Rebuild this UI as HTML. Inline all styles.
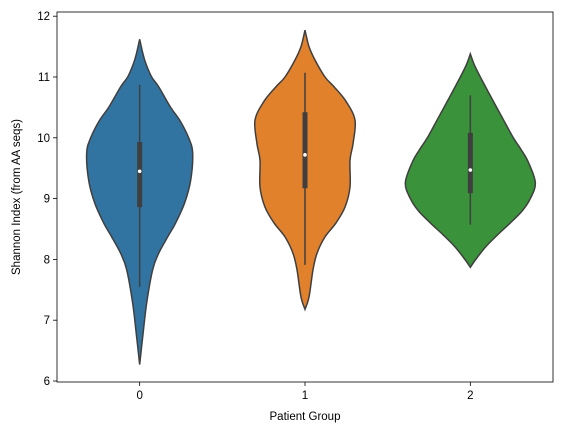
<!DOCTYPE html>
<html><head><meta charset="utf-8"><style>
body{margin:0;background:#fff}
svg text{font-family:"Liberation Sans",sans-serif;font-size:11.5px;fill:#000}
</style></head><body>
<svg width="563" height="435" id="c"></svg>
<script>
const categories=["0","1","2"];
const colors=["#3274a1","#e1812c","#3a923a"];
const yTicks=[6,7,8,9,10,11,12];
// density profiles: [value, half-width in px of kde]
const prof0=[[11.62,0],[11.4,3],[11.23,6],[11.0,12],[10.84,19],[10.5,31],[10.29,40],[10.0,49],[9.75,53],[9.3,51],[8.93,45],[8.6,36],[8.37,28],[8.1,19],[7.83,13],[7.28,7],[6.72,3],[6.27,0]];
const prof1=[[11.77,0],[11.5,4],[11.28,10],[11.0,20],[10.84,29],[10.6,41],[10.29,50],[9.9,48],[9.63,45],[9.19,45],[8.86,40],[8.6,31],[8.37,20],[8.1,12],[7.83,8],[7.38,4],[7.18,0]];
const prof2=[[11.38,0],[11.2,4],[11.0,10],[10.57,24],[10.3,33],[10.0,43],[9.8,51],[9.6,58],[9.26,65],[9.0,60],[8.8,52],[8.6,40],[8.4,27],[8.2,15],[7.99,5],[7.87,0]];
const q1=[8.86,9.17,9.09], q3=[9.93,10.42,10.08], med=[9.45,9.72,9.47];
const whiskLo=[7.55,7.91,8.57], whiskHi=[10.87,11.07,10.7];
const profs=[prof0,prof1,prof2];
const L=57,R=553,T=12,B=382;
const y=v=>381-(v-6)*60.8;
const x=i=>L+(R-L)*(i+0.5)/3;
const ns="http://www.w3.org/2000/svg",svg=document.getElementById('c');
function mk(t,a,p){const e=document.createElementNS(ns,t);for(const k in a)e.setAttribute(k,a[k]);(p||svg).appendChild(e);return e;}
function spline(pts){let d=`M${pts[0][0]},${pts[0][1]}`;for(let i=0;i<pts.length-1;i++){const p0=pts[Math.max(i-1,0)],p1=pts[i],p2=pts[i+1],p3=pts[Math.min(i+2,pts.length-1)];d+=`C${p1[0]+(p2[0]-p0[0])/6},${p1[1]+(p2[1]-p0[1])/6} ${p2[0]-(p3[0]-p1[0])/6},${p2[1]-(p3[1]-p1[1])/6} ${p2[0]},${p2[1]}`;}return d;}
profs.forEach((p,i)=>{
  const cx=x(i);
  const right=p.map(([v,w])=>[cx+w,y(v)]);
  const left=p.slice().reverse().map(([v,w])=>[cx-w,y(v)]);
  const d=spline(right)+spline(left).replace(/^M/,'L')+'Z';
  const v=mk('path',{d,fill:colors[i],stroke:'#3f3f3f','stroke-width':1.5});
  
  
  const w=mk('line',{x1:cx,x2:cx,y1:y(whiskLo[i]),y2:y(whiskHi[i]),stroke:'#3f3f3f','stroke-width':1.5});
  
  
  const b=mk('line',{x1:cx,x2:cx,y1:y(q1[i]),y2:y(q3[i]),stroke:'#3f3f3f','stroke-width':5});
  
  
  const m=mk('circle',{cx,cy:y(med[i]),r:1.8,fill:'#fff'});
  
  
  const t=mk('line',{x1:cx,x2:cx,y1:B,y2:B+4,stroke:'#000','stroke-width':0.8});
  
  
  const tl=mk('text',{x:cx,y:B+17,'text-anchor':'middle'});tl.textContent=categories[i];
  
  
});
yTicks.forEach(v=>{
  const t=mk('line',{x1:L-4,x2:L,y1:y(v),y2:y(v),stroke:'#000','stroke-width':0.8});
  
  
  const tl=mk('text',{x:L-7,y:y(v)+4,'text-anchor':'end'});tl.textContent=v;
  
  
});
const fr=mk('rect',{x:L,y:T,width:R-L,height:B-T,fill:'none',stroke:'#000','stroke-width':0.8});


const xt=mk('text',{x:(L+R)/2,y:420,'text-anchor':'middle'});xt.textContent='Patient Group';


const yt=mk('text',{x:0,y:0,'text-anchor':'middle',transform:`translate(20,${(T+B)/2}) rotate(-90)`});yt.textContent='Shannon Index (from AA seqs)';


</script>
</body></html>
